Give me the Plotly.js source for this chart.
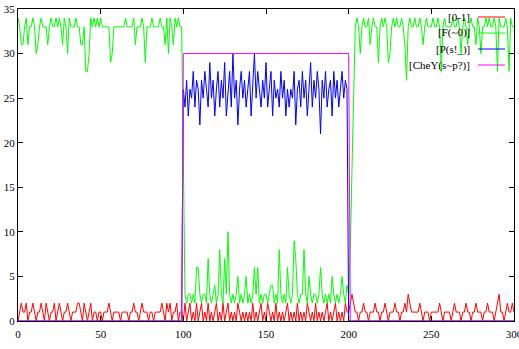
<!DOCTYPE html>
<html><head><meta charset="utf-8">
<script src="https://cdn.plot.ly/plotly-3.0.1.min.js"></script>
<style>html,body{margin:0;padding:0;background:#fff}#c{width:519px;height:349px}</style>
</head><body><div id="c"></div>
<script>
const seriesNames = ["[0-1]", "[F(~0)]", "[P(s!_)]", "[CheY(s~p?)]"];
const seriesColors = ["#ff0000", "#00ff00", "#0000ff", "#ff00ff"];

const red = [
0,1,2,1,1,2,0,1,1,2, 1,0,1,1,2,1,0,2,1,0, 1,1,2,0,1,2,1,0,1,1, 2,1,0,1,1,1,2,2,1,0,
2,1,0,1,2,0,1,1,0,1, 1,0,1,1,1,2,1,0,1,1, 1,1,0,1,1,1,1,0,1,1, 2,1,1,0,1,2,1,1,1,0,
1,1,0,1,1,1,1,2,1,0, 2,1,2,0,1,1,2,0,1,1,
0,2,0,1,2,0,1,0,2,0, 1,2,0,1,0,2,0,1,0,1, 2,0,1,0,2,0,1,2,0,1, 0,1,0,2,1,0,1,0,1,0,
1,0,2,0,1,0,1,2,0,1, 0,2,1,0,1,0,2,0,1,0, 1,0,1,2,0,1,0,1,0,2, 0,1,0,1,0,2,1,0,1,0,
2,0,1,0,1,0,1,2,0,1, 0,1,2,0,1,0,1,0,2,1,
1,2,3,2,1,1,0,1,1,2, 1,1,0,1,1,1,2,1,1,0, 1,1,2,1,0,1,1,1,2,1, 1,0,1,1,2,1,3,2,1,1,
1,1,1,2,1,0,1,1,1,0, 1,1,1,1,1,2,1,0,1,1, 1,1,0,1,2,1,1,1,0,1, 1,2,1,1,0,1,1,2,1,1,
1,0,1,1,2,1,1,1,0,1, 2,3,1,1,0,1,2,1,1,2, 1
];

const green = [
34,33,31,31,33,34,31,33,33,34, 33,30,31,33,34,33,33,33,31,33, 34,33,33,34,33,34,33,31,34,33,
30,34,33,33,33,34,33,33,31,31, 33,28,28,30,34,33,34,33,34,33, 34,33,33,33,33,33,29,30,33,33,
33,33,33,33,33,34,33,33,33,33, 34,31,33,33,33,34,33,29,33,33, 33,34,33,33,33,33,34,33,33,31,
34,30,34,33,31,34,33,34,33,33,
18,3,2,3,3,2,3,2,6,6, 3,2,3,3,2,7,3,2,3,4, 2,3,8,3,2,7,3,10,3,2, 3,2,3,5,2,3,2,3,5,2,
3,2,3,6,3,6,2,3,2,3, 3,2,3,4,4,2,3,2,8,3, 2,3,2,6,3,2,3,9,7,3, 2,3,3,8,3,2,5,3,2,3,
3,2,3,6,3,2,3,2,3,2, 5,3,2,3,2,3,5,3,2,4,
3,8,17,26,33,34,33,30,33,34, 33,33,34,31,33,34,33,33,29,33, 34,33,34,33,29,30,33,34,33,34,
33,33,34,33,31,27,33,34,33,33, 34,33,33,34,33,31,33,34,33,33, 33,34,33,33,34,33,28,33,34,33,
33,33,33,34,33,33,34,33,30,33, 34,33,31,33,34,33,33,31,34,33, 30,33,33,34,33,34,33,33,34,33,
28,34,33,33,33,34,33,28,34,33, 33
];

const blue = [
0,0,0,0,0,0,0,0,0,0, 0,0,0,0,0,0,0,0,0,0, 0,0,0,0,0,0,0,0,0,0, 0,0,0,0,0,0,0,0,0,0,
0,0,0,0,0,0,0,0,0,0, 0,0,0,0,0,0,0,0,0,0, 0,0,0,0,0,0,0,0,0,0, 0,0,0,0,0,0,0,0,0,0,
0,0,0,0,0,0,0,0,0,0, 0,0,0,0,0,0,0,0,0,0,
26,24,27,23,26,25,28,24,27,26, 22,27,25,28,26,24,29,25,27,23, 26,28,24,27,25,29,23,26,28,24,
30,25,27,22,26,28,25,27,24,26, 28,23,27,30,25,28,26,24,27,25, 29,24,26,28,23,27,25,26,24,28,
25,27,23,26,24,26,25,28,22,26, 27,24,28,25,27,23,26,29,24,27, 25,28,26,21,27,25,28,24,26,27,
23,28,25,27,24,26,28,25,27,26,
0,0,0,0,0,0,0,0,0,0, 0,0,0,0,0,0,0,0,0,0, 0,0,0,0,0,0,0,0,0,0, 0,0,0,0,0,0,0,0,0,0,
0,0,0,0,0,0,0,0,0,0, 0,0,0,0,0,0,0,0,0,0, 0,0,0,0,0,0,0,0,0,0, 0,0,0,0,0,0,0,0,0,0,
0,0,0,0,0,0,0,0,0,0, 0,0,0,0,0,0,0,0,0,0, 0
];

const chey = [
0,0,0,0,0,0,0,0,0,0, 0,0,0,0,0,0,0,0,0,0, 0,0,0,0,0,0,0,0,0,0, 0,0,0,0,0,0,0,0,0,0,
0,0,0,0,0,0,0,0,0,0, 0,0,0,0,0,0,0,0,0,0, 0,0,0,0,0,0,0,0,0,0, 0,0,0,0,0,0,0,0,0,0,
0,0,0,0,0,0,0,0,0,0, 0,0,0,0,0,0,0,0,0,0,
30,30,30,30,30,30,30,30,30,30, 30,30,30,30,30,30,30,30,30,30, 30,30,30,30,30,30,30,30,30,30,
30,30,30,30,30,30,30,30,30,30, 30,30,30,30,30,30,30,30,30,30, 30,30,30,30,30,30,30,30,30,30,
30,30,30,30,30,30,30,30,30,30, 30,30,30,30,30,30,30,30,30,30, 30,30,30,30,30,30,30,30,30,30,
30,30,30,30,30,30,30,30,30,30,
30,0,0,0,0,0,0,0,0,0, 0,0,0,0,0,0,0,0,0,0, 0,0,0,0,0,0,0,0,0,0, 0,0,0,0,0,0,0,0,0,0,
0,0,0,0,0,0,0,0,0,0, 0,0,0,0,0,0,0,0,0,0, 0,0,0,0,0,0,0,0,0,0, 0,0,0,0,0,0,0,0,0,0,
0,0,0,0,0,0,0,0,0,0, 0,0,0,0,0,0,0,0,0,0, 0
];

const xTicks = [0, 50, 100, 150, 200, 250, 300];
const yTicks = [0, 5, 10, 15, 20, 25, 30, 35];

const allSeries = [red, green, blue, chey];
const traces = allSeries.map((ys, i) => ({
  x: ys.map((_, t) => t),
  y: ys,
  type: 'scatter',
  mode: 'lines',
  name: seriesNames[i],
  line: {color: seriesColors[i], width: 1},
  showlegend: false,
  hoverinfo: 'skip'
}));

const font = {family: 'Liberation Serif, Times New Roman, serif', size: 11, color: '#000'};
const plotL = 18, plotR = 514, plotT = 9, plotB = 321;
const annotations = [], shapes = [];
seriesNames.forEach((n, i) => {
  const py = 17 + i * 16;
  const yp = (plotB - py) / (plotB - plotT);
  annotations.push({
    xref: 'paper', yref: 'paper', x: (472 - plotL) / (plotR - plotL), y: yp,
    xanchor: 'right', yanchor: 'middle', text: n, showarrow: false, font: font
  });
  shapes.push({
    type: 'line', xref: 'paper', yref: 'paper',
    x0: (478 - plotL) / (plotR - plotL), x1: (505 - plotL) / (plotR - plotL), y0: yp, y1: yp,
    line: {color: seriesColors[i], width: 1}
  });
});

const layout = {
  width: 519, height: 349,
  margin: {l: plotL, r: 519 - plotR, t: plotT, b: 349 - plotB},
  paper_bgcolor: '#fff', plot_bgcolor: '#fff',
  font: font,
  showlegend: false,
  xaxis: {
    range: [0, 300], tickvals: xTicks, ticktext: xTicks.map(String),
    ticks: 'inside', ticklen: 5, tickcolor: '#000', mirror: 'ticks',
    showline: true, linecolor: '#000', linewidth: 1, ticklabeloverflow: 'allow',
    ticklabelstandoff: 3,
    showgrid: false, zeroline: false, tickfont: font
  },
  yaxis: {
    range: [0, 35], tickvals: yTicks, ticktext: yTicks.map(String),
    ticks: 'inside', ticklen: 5, tickcolor: '#000', mirror: 'ticks',
    showline: true, linecolor: '#000', linewidth: 1, ticklabeloverflow: 'allow',
    showgrid: false, zeroline: false, tickfont: font
  },
  annotations: annotations,
  shapes: shapes
};

Plotly.newPlot('c', traces, layout, {displayModeBar: false, staticPlot: true});
</script>
</body></html>
